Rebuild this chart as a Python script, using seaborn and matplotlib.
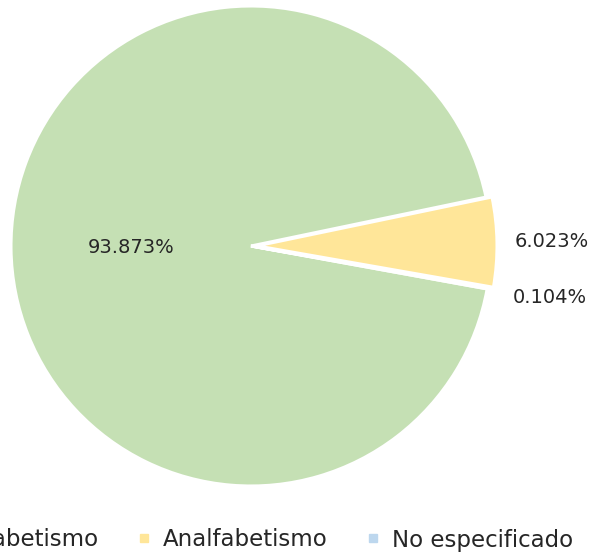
import matplotlib
matplotlib.use("Agg")
import matplotlib.pyplot as plt
from matplotlib.lines import Line2D
import seaborn as sns

# Literacy breakdown (percent)
categories = ["Alfabetismo", "Analfabetismo", "No especificado"]
shares = [93.873, 6.023, 0.104]
slice_colors = ["#C5E0B4", "#FFE699", "#BDD7EE"]
explode = [0.0, 0.025, 0.0]

sns.set_theme(style="white")
plt.rcParams["font.family"] = ["DejaVu Sans"]
palette = sns.color_palette(slice_colors)

fig = plt.figure(figsize=(5.91, 5.54), dpi=100)
# square axes holding the pie, radius 1 -> 240 px
ax = fig.add_axes([-13 / 591, 44 / 554, 528 / 591, 528 / 554])

wedges, texts, autotexts = ax.pie(
    shares,
    colors=palette,
    explode=explode,
    startangle=-10.3,
    counterclock=False,
    autopct="%.3f%%",
    pctdistance=1.23,
    wedgeprops=dict(edgecolor="white", linewidth=2.2),
    textprops=dict(fontsize=14, color="#262626"),
)
# the large slice carries its label inside; the tiny slice's label sits a bit further out
x0, y0 = autotexts[0].get_position()
autotexts[0].set_position((x0 * 0.5 / 1.23, y0 * 0.5 / 1.23))
x2, y2 = autotexts[2].get_position()
autotexts[2].set_position((x2 * 1.265 / 1.23, y2 * 1.22 / 1.23))

ax.set_xlim(-1.1, 1.1)
ax.set_ylim(-1.1, 1.1)
ax.set_aspect("equal")
ax.axis("off")

handles = [
    Line2D([], [], marker="s", linestyle="none", markersize=6,
           markerfacecolor=c, markeredgecolor=c)
    for c in palette
]
fig.legend(
    handles, categories,
    loc="center", bbox_to_anchor=(255 / 591, 14 / 554),
    ncol=3, frameon=False, fontsize=16.5,
    handlelength=0.6, handletextpad=0.5, columnspacing=1.7,
    labelcolor="#262626",
)

fig.savefig("out.png", dpi=100)
